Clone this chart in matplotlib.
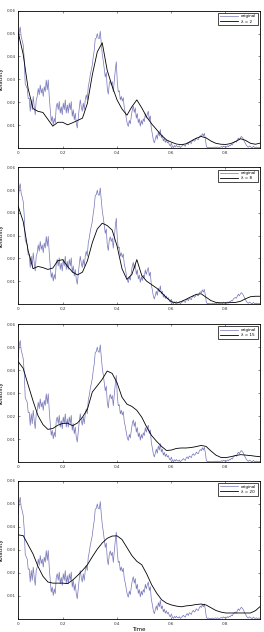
import numpy as np
import matplotlib
matplotlib.use('Agg')
import matplotlib.pyplot as plt

# original volatility series (x 1e-3), sampled evenly in time
original = [
    45.7, 50.7, 52.9, 48.5, 47, 45, 39, 28, 27, 26,
    21.5, 21.7, 16, 21, 16.7, 22.5, 18, 14.5, 21, 22.5,
    26, 23.2, 27.5, 24, 26, 22.5, 26.8, 24.6, 29.7, 25.4,
    29.7, 22.5, 16.7, 11.6, 13.8, 10.1, 13, 10.9, 18, 19.6,
    16.7, 20.3, 15.2, 18, 14.5, 19.6, 16.7, 21, 15.2, 18.8,
    15.2, 19.6, 16.7, 20.3, 13.8, 16.7, 12.3, 15.2, 10.9, 8.7,
    13, 17.4, 21, 18, 16, 19.6, 16.7, 21, 23.2, 21,
    26.8, 29, 31.9, 34, 36.2, 39.9, 42.8, 47.8, 48, 50,
    48, 47.8, 51, 45.7, 41, 38, 34.5, 31, 33, 26,
    23.5, 28, 29.5, 27.5, 29, 24.5, 29.5, 34, 37.7, 29,
    24.5, 25, 21, 22.5, 20.5, 22, 17.5, 15.5, 13, 10.5,
    9.4, 12, 10.5, 13.8, 16.7, 18.3, 15.5, 17.5, 13, 15,
    11, 12.7, 9.5, 12, 10.3, 12.7, 11.5, 15, 13, 14.8,
    16, 12.3, 14, 8.5, 6.2, 3.6, 2.2, 3.8, 5.6, 3.8,
    7, 5.2, 8, 4.4, 5.6, 3, 4.2, 2.4, 3.5, 2.2,
    2.8, 1.4, 0.8, 2.1, 0.8, 0.1, 1, 0.4, 1.1, 0.5,
    0.4, 0.9, 0.1, 0.6, 0.9, 1.5, 1, 0.7, 1.9, 2.2,
    1.4, 2.6, 2.3, 1.9, 3.2, 3.6, 2.9, 3.3, 4.3, 3.8,
    3.6, 4.8, 5.4, 4.9, 6.2, 5.2, 6.4, 4.0, 0.7, 0.1,
    0.3, 0.1, 0.2, 0, 0.3, 0.1, 0.2, 0.4, 0.1, 0.4,
    0.2, 0.1, 0.3, 0.6, 0.2, 0.8, 0.4, 0.7, 0.3, 0.9,
    0.5, 1.1, 0.9, 1.6, 1.3, 2.2, 2.6, 2.9, 2.5, 3.5,
    4.3, 3.6, 4.4, 5.0, 4.5, 3.9, 2.8, 2.0, 1.2, 0.6,
    0.3, 0.8, 0.6, 0.2, 0.1, 0.7, 0.3, 0.1, 0.4, 0.1,
    0.3, 0.2, 0.3,
]

# smoothed series (x 1e-3) for each lambda
smooth_2 = [
    50.5, 41, 26, 17.2, 16, 15.5, 12.5, 9.5, 11.2, 11.2,
    10.1, 11, 12, 13, 19.5, 32, 42, 46, 34, 27,
    21, 17, 14.3, 18, 21, 17.5, 13.5, 10.5, 8, 5.5,
    3.5, 2.5, 1.7, 1.4, 1.8, 3, 4.2, 5.0, 4.4, 3.0,
    2.0, 1.6, 1.5, 1.9, 2.8, 4.0, 3.3, 2.0, 1.6, 2.1,
]
smooth_8 = [
    42.9, 36.3, 23.5, 15.5, 16.5, 16, 15.2, 15.8, 19, 19.5,
    16.5, 14, 12.8, 14, 19, 27, 33, 35.5, 34.5, 32.5,
    25.5, 15.5, 10.8, 13, 19.5, 12.5, 10, 8.5, 7, 5,
    2.8, 1, 0.4, 1.1, 2.1, 3.2, 4.2, 4.5, 3, 1.5,
    0.7, 0.5, 0.5, 0.6, 0.7, 1.2, 2.3, 3.2, 3.4, 3.4,
]
smooth_15 = [
    43.7, 40.8, 33.6, 26.6, 20.2, 16.3, 14.2, 14.6, 16, 16.8,
    16.9, 15.8, 17, 19.5, 23, 30.5, 33.2, 36, 39.6, 38.6,
    34.5, 28.2, 25.2, 24.2, 22.5, 19.5, 15.2, 11.5, 9, 6.8,
    5, 5.2, 5.9, 6.1, 6.1, 6.3, 6.7, 7.2, 6.8, 4.8,
    3, 2, 1.9, 2.3, 2.8, 3.2, 3, 2.8, 2.5, 2.3,
]
smooth_20 = [
    36.5, 36.2, 32.2, 28.2, 22.8, 18.5, 16, 15.5, 15.5, 15.5,
    15.3, 16.8, 18.8, 21, 23.5, 27, 30.3, 33, 35, 36,
    36.1, 34.5, 31, 27.5, 25, 23.5, 19.5, 14.8, 11.2, 8.3,
    6.8, 6, 5.5, 5.2, 5.6, 5.8, 6.2, 6.4, 6.0, 4.8,
    3.6, 2.9, 2.5, 2.5, 2.5, 2.5, 2.5, 2.5, 3.5, 5.4,
]

lambdas = ['2', '8', '15', '20']
smooth_all = [smooth_2, smooth_8, smooth_15, smooth_20]

t_start = 1 / 30
t_end = t_start + 242 / 270
t_orig = np.linspace(t_start, t_end, len(original))
v_orig = np.array(original) * 1e-3

x_ticks = [t_start, 0.2, 0.4, 0.6, 0.8]
x_ticklabels = ['0', '0.2', '0.4', '0.6', '0.8']
y_ticks = [0.01, 0.02, 0.03, 0.04, 0.05, 0.06]
y_ticklabels = ['0.01', '0.02', '0.03', '0.04', '0.05', '0.06']

fig = plt.figure(figsize=(2.64, 6.32), dpi=100)

# axes boxes (left, bottom, width, height) in figure fraction
boxes = [
    (0.069, 0.766, 0.916, 0.217),
    (0.069, 0.519, 0.916, 0.216),
    (0.069, 0.269, 0.916, 0.218),
    (0.069, 0.021, 0.916, 0.218),
]

for box, lam, sm in zip(boxes, lambdas, smooth_all):
    ax = fig.add_axes(box)
    t_s = np.linspace(t_start, t_end, len(sm))
    ax.plot(t_orig, v_orig, color='#7474b8', lw=0.5, label='original')
    ax.plot(t_s, np.array(sm) * 1e-3, color='black', lw=0.6,
            label='\u03bb = ' + lam)
    ax.set_xlim(t_start, 0.9284)
    ax.set_ylim(0, 0.06)
    ax.set_xticks(x_ticks)
    ax.set_xticklabels(x_ticklabels)
    ax.set_yticks(y_ticks)
    ax.set_yticklabels(y_ticklabels)
    ax.tick_params(direction='in', length=1.5, width=0.4, labelsize=3,
                   top=True, right=True, pad=2, colors='#333333')
    for s in ax.spines.values():
        s.set_linewidth(0.6)
    ax.set_ylabel('Volatility', fontsize=4, labelpad=2)
    leg = ax.legend(loc='upper right', fontsize=3, fancybox=False,
                    edgecolor='black', framealpha=1, handlelength=4.5,
                    borderpad=0.4, labelspacing=0.3, handletextpad=0.6,
                    borderaxespad=0.5)
    leg.get_frame().set_linewidth(0.5)

ax.set_xlabel('Time', fontsize=4, labelpad=1)

fig.savefig('out.png', dpi=100)
